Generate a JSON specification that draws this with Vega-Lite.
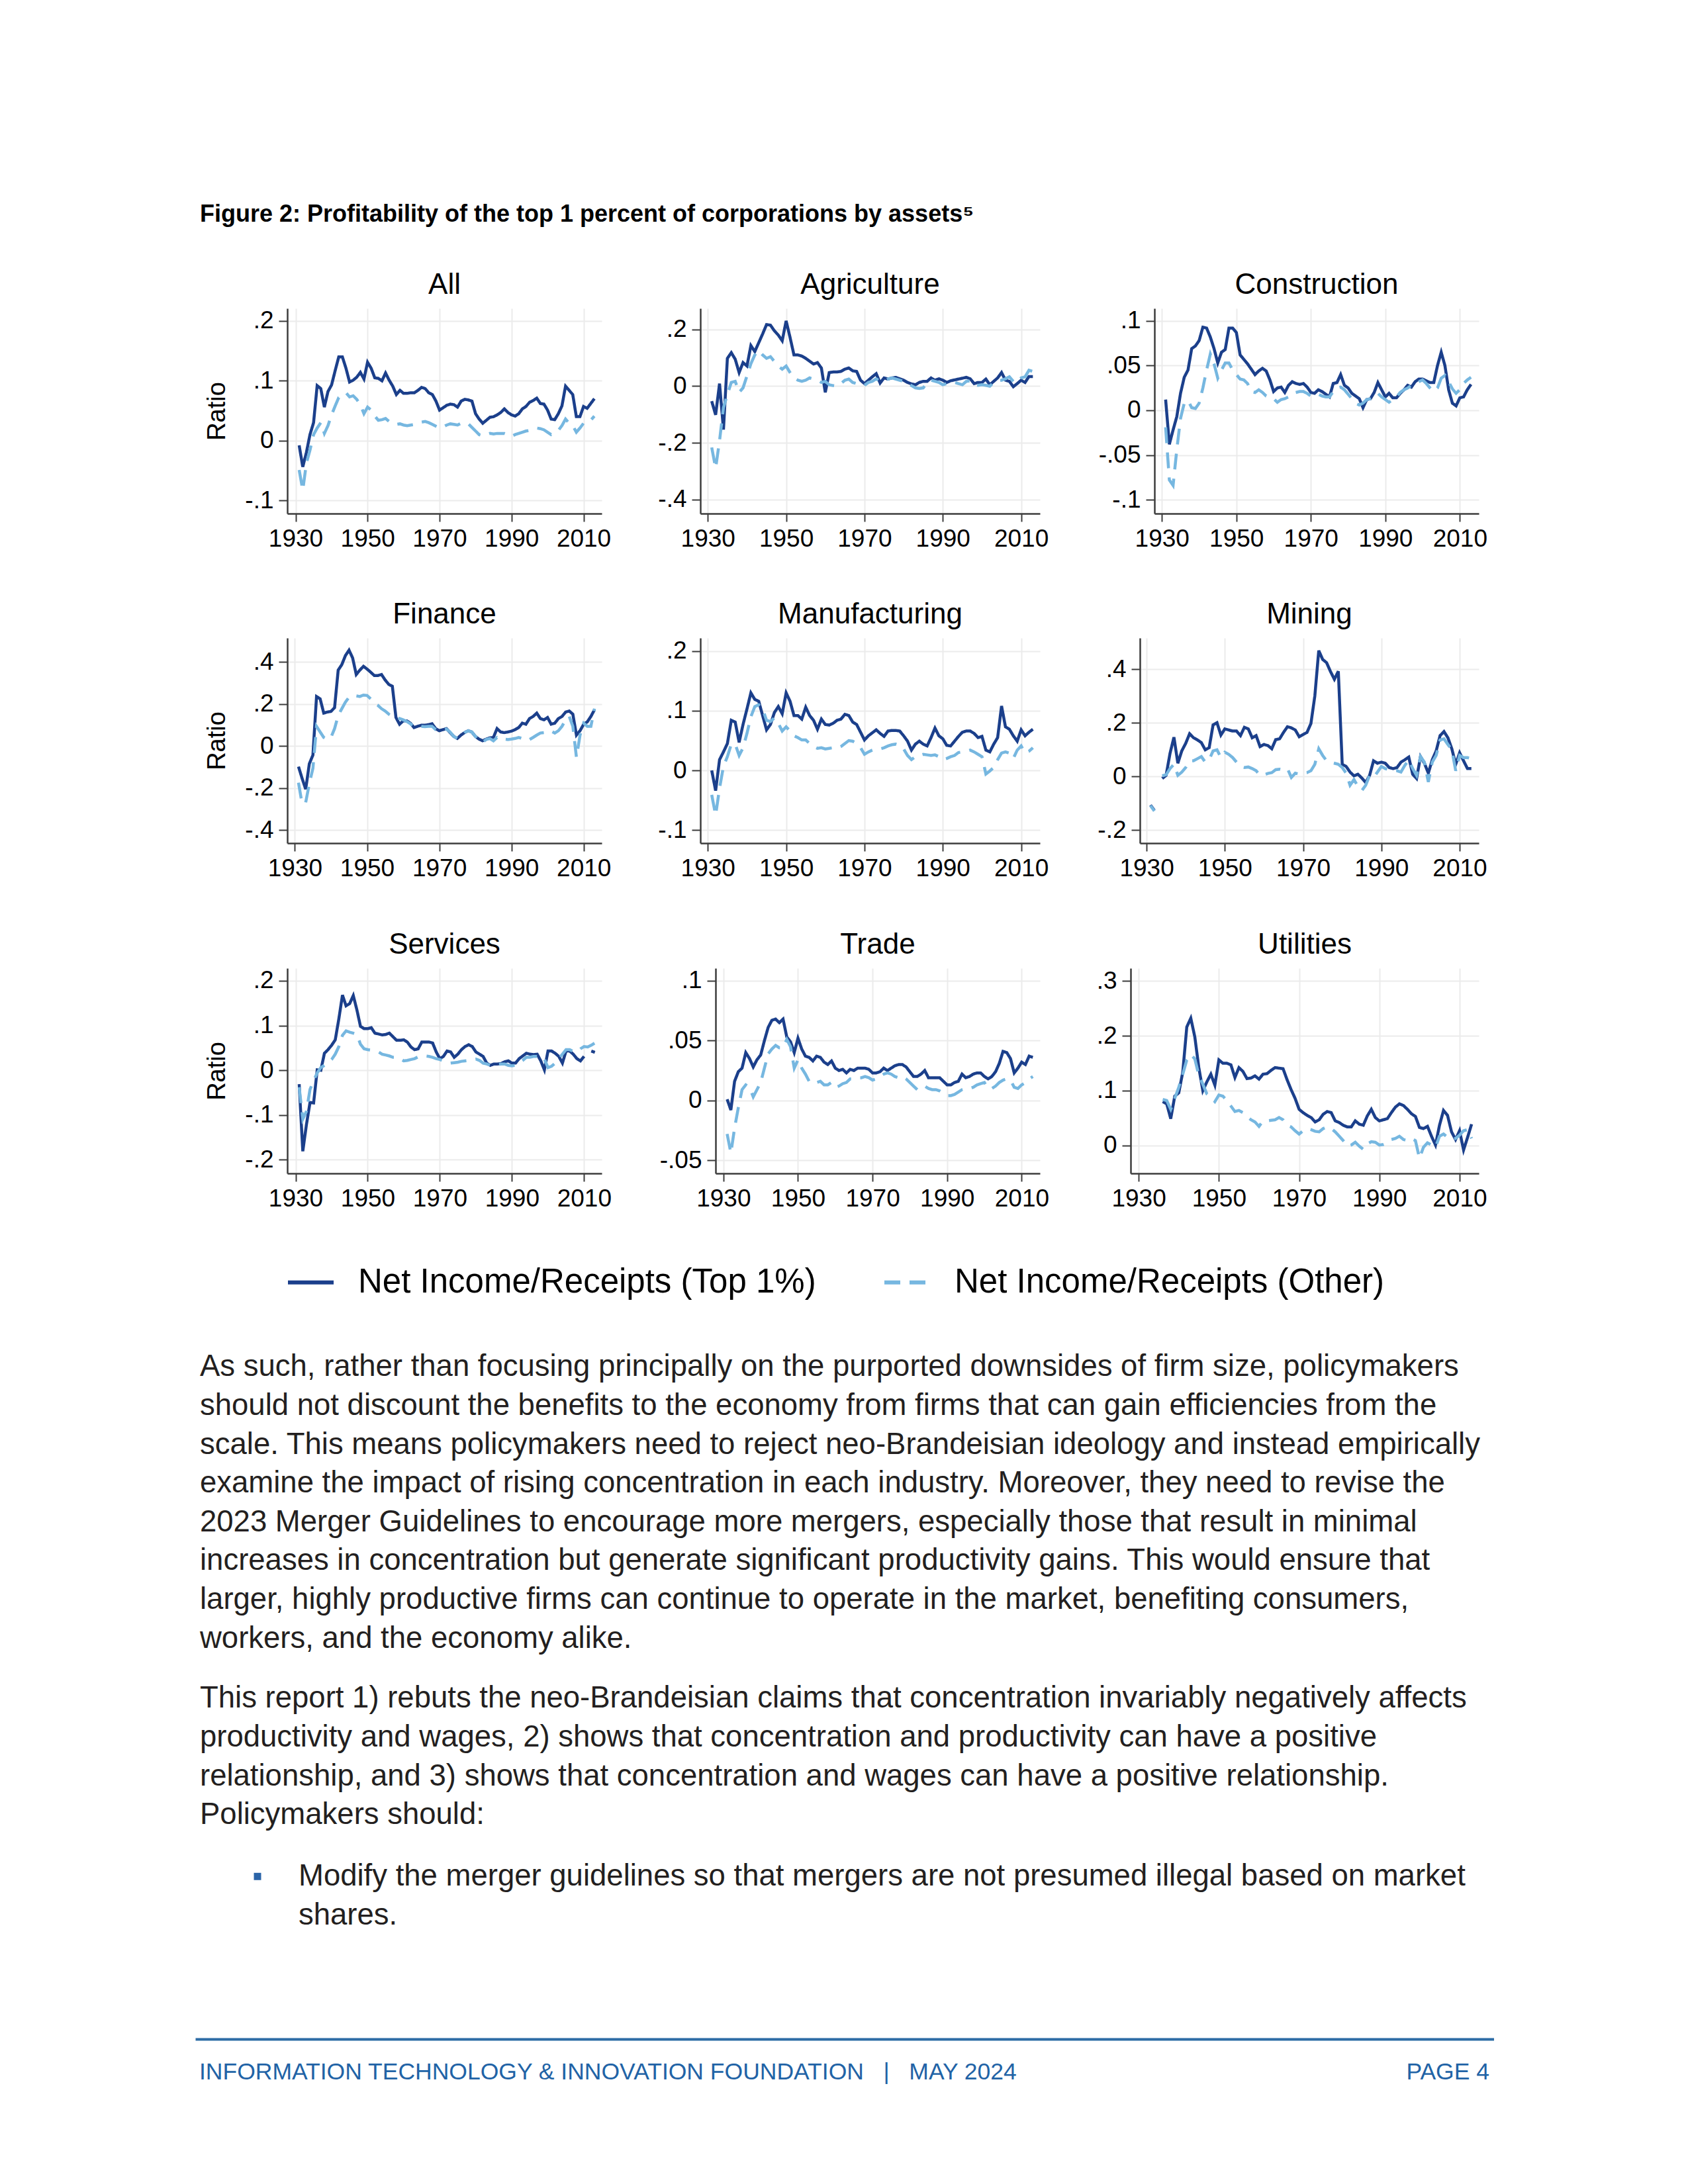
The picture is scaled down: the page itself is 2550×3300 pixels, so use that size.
{
"$schema": "https://vega.github.io/schema/vega-lite/v6.json",
"padding": {"left": 295, "top": 300, "right": 0, "bottom": 0},
"background": "white",
"columns": 6,
"spacing": 0,
"bounds": "flush",
"align": {"row": "each", "column": "each"},
"resolve": {"scale": {"x": "independent", "y": "independent"}, "axis": {"x": "independent", "y": "independent"}},
"datasets": {
"d": [
{"p":"All","yr":1931,"t":-0.008,"o":-0.049},{"p":"All","yr":1932,"t":-0.044,"o":-0.083},{"p":"All","yr":1933,"t":-0.020,"o":-0.038},{"p":"All","yr":1934,"t":0.010,"o":-0.016},{"p":"All","yr":1935,"t":0.030,"o":0.010},{"p":"All","yr":1936,"t":0.092,"o":0.021},{"p":"All","yr":1937,"t":0.087,"o":0.030},{"p":"All","yr":1938,"t":0.056,"o":0.012},{"p":"All","yr":1939,"t":0.082,"o":0.025},{"p":"All","yr":1940,"t":0.093,"o":0.043},{"p":"All","yr":1941,"t":0.117,"o":0.058},{"p":"All","yr":1942,"t":0.140,"o":0.072},{"p":"All","yr":1943,"t":0.140,"o":0.077},{"p":"All","yr":1944,"t":0.121,"o":0.080},{"p":"All","yr":1945,"t":0.098,"o":0.073},{"p":"All","yr":1946,"t":0.101,"o":0.075},{"p":"All","yr":1947,"t":0.106,"o":0.069},{"p":"All","yr":1948,"t":0.114,"o":0.060},{"p":"All","yr":1949,"t":0.103,"o":0.045},{"p":"All","yr":1950,"t":0.131,"o":0.056},{"p":"All","yr":1951,"t":0.121,"o":0.051},{"p":"All","yr":1952,"t":0.105,"o":0.041},{"p":"All","yr":1953,"t":0.104,"o":0.034},{"p":"All","yr":1954,"t":0.100,"o":0.035},{"p":"All","yr":1955,"t":0.113,"o":0.037},{"p":"All","yr":1956,"t":0.101,"o":0.032},{"p":"All","yr":1957,"t":0.091,"o":0.029},{"p":"All","yr":1958,"t":0.077,"o":0.027},{"p":"All","yr":1959,"t":0.084,"o":0.028},{"p":"All","yr":1960,"t":0.079,"o":0.026},{"p":"All","yr":1961,"t":0.079,"o":0.025},{"p":"All","yr":1962,"t":0.080,"o":0.026},{"p":"All","yr":1963,"t":0.080,"o":0.027},{"p":"All","yr":1964,"t":0.084,"o":0.029},{"p":"All","yr":1965,"t":0.089,"o":0.031},{"p":"All","yr":1966,"t":0.087,"o":0.032},{"p":"All","yr":1967,"t":0.080,"o":0.030},{"p":"All","yr":1968,"t":0.077,"o":0.027},{"p":"All","yr":1969,"t":0.066,"o":0.024},{"p":"All","yr":1970,"t":0.051,"o":0.021},{"p":"All","yr":1971,"t":0.055,"o":0.023},{"p":"All","yr":1972,"t":0.059,"o":0.026},{"p":"All","yr":1973,"t":0.061,"o":0.028},{"p":"All","yr":1974,"t":0.060,"o":0.027},{"p":"All","yr":1975,"t":0.056,"o":0.026},{"p":"All","yr":1976,"t":0.066,"o":0.029},{"p":"All","yr":1977,"t":0.069,"o":0.030},{"p":"All","yr":1978,"t":0.068,"o":0.028},{"p":"All","yr":1979,"t":0.066,"o":0.022},{"p":"All","yr":1980,"t":0.045,"o":0.016},{"p":"All","yr":1981,"t":0.036,"o":0.010},{"p":"All","yr":1982,"t":0.029,"o":0.008},{"p":"All","yr":1983,"t":0.034,"o":0.010},{"p":"All","yr":1984,"t":0.039,"o":0.012},{"p":"All","yr":1985,"t":0.040,"o":0.011},{"p":"All","yr":1986,"t":0.043,"o":0.012},{"p":"All","yr":1987,"t":0.047,"o":0.012},{"p":"All","yr":1988,"t":0.053,"o":0.012},{"p":"All","yr":1989,"t":0.047,"o":0.010},{"p":"All","yr":1990,"t":0.043,"o":0.007},{"p":"All","yr":1991,"t":0.041,"o":0.010},{"p":"All","yr":1992,"t":0.045,"o":0.012},{"p":"All","yr":1993,"t":0.053,"o":0.014},{"p":"All","yr":1994,"t":0.057,"o":0.016},{"p":"All","yr":1995,"t":0.064,"o":0.017},{"p":"All","yr":1996,"t":0.067,"o":0.019},{"p":"All","yr":1997,"t":0.071,"o":0.021},{"p":"All","yr":1998,"t":0.062,"o":0.020},{"p":"All","yr":1999,"t":0.061,"o":0.018},{"p":"All","yr":2000,"t":0.051,"o":0.014},{"p":"All","yr":2001,"t":0.036,"o":0.010},{"p":"All","yr":2002,"t":0.035,"o":0.012},{"p":"All","yr":2003,"t":0.045,"o":0.017},{"p":"All","yr":2004,"t":0.058,"o":0.025},{"p":"All","yr":2005,"t":0.091,"o":0.036},{"p":"All","yr":2006,"t":0.084,"o":0.029},{"p":"All","yr":2007,"t":0.077,"o":0.025},{"p":"All","yr":2008,"t":0.040,"o":0.014},{"p":"All","yr":2009,"t":0.040,"o":0.021},{"p":"All","yr":2010,"t":0.057,"o":0.029},{"p":"All","yr":2011,"t":0.054,"o":0.030},{"p":"All","yr":2012,"t":0.062,"o":0.034},{"p":"All","yr":2013,"t":0.070,"o":0.041},
{"p":"Agr","yr":1931,"t":-0.053,"o":-0.216},{"p":"Agr","yr":1932,"t":-0.101,"o":-0.289},{"p":"Agr","yr":1933,"t":0.009,"o":-0.192},{"p":"Agr","yr":1934,"t":-0.153,"o":-0.076},{"p":"Agr","yr":1935,"t":0.098,"o":-0.029},{"p":"Agr","yr":1936,"t":0.118,"o":0.013},{"p":"Agr","yr":1937,"t":0.095,"o":0.017},{"p":"Agr","yr":1938,"t":0.048,"o":-0.022},{"p":"Agr","yr":1939,"t":0.083,"o":-0.006},{"p":"Agr","yr":1940,"t":0.071,"o":0.036},{"p":"Agr","yr":1941,"t":0.143,"o":0.079},{"p":"Agr","yr":1942,"t":0.122,"o":0.110},{"p":"Agr","yr":1943,"t":0.153,"o":0.126},{"p":"Agr","yr":1944,"t":0.184,"o":0.110},{"p":"Agr","yr":1945,"t":0.217,"o":0.098},{"p":"Agr","yr":1946,"t":0.215,"o":0.104},{"p":"Agr","yr":1947,"t":0.195,"o":0.087},{"p":"Agr","yr":1948,"t":0.180,"o":0.071},{"p":"Agr","yr":1949,"t":0.160,"o":0.060},{"p":"Agr","yr":1950,"t":0.230,"o":0.071},{"p":"Agr","yr":1951,"t":0.172,"o":0.048},{"p":"Agr","yr":1952,"t":0.110,"o":0.029},{"p":"Agr","yr":1953,"t":0.110,"o":0.021},{"p":"Agr","yr":1954,"t":0.106,"o":0.017},{"p":"Agr","yr":1955,"t":0.098,"o":0.021},{"p":"Agr","yr":1956,"t":0.088,"o":0.029},{"p":"Agr","yr":1957,"t":0.078,"o":0.025},{"p":"Agr","yr":1958,"t":0.083,"o":0.021},{"p":"Agr","yr":1959,"t":0.064,"o":0.013},{"p":"Agr","yr":1960,"t":-0.022,"o":0.017},{"p":"Agr","yr":1961,"t":0.048,"o":0.005},{"p":"Agr","yr":1962,"t":0.050,"o":0.002},{"p":"Agr","yr":1963,"t":0.050,"o":0.000},{"p":"Agr","yr":1964,"t":0.052,"o":0.009},{"p":"Agr","yr":1965,"t":0.060,"o":0.021},{"p":"Agr","yr":1966,"t":0.064,"o":0.025},{"p":"Agr","yr":1967,"t":0.054,"o":0.013},{"p":"Agr","yr":1968,"t":0.052,"o":0.009},{"p":"Agr","yr":1969,"t":0.021,"o":0.008},{"p":"Agr","yr":1970,"t":0.009,"o":0.003},{"p":"Agr","yr":1971,"t":0.021,"o":0.013},{"p":"Agr","yr":1972,"t":0.033,"o":0.017},{"p":"Agr","yr":1973,"t":0.044,"o":0.026},{"p":"Agr","yr":1974,"t":0.011,"o":0.017},{"p":"Agr","yr":1975,"t":0.029,"o":0.021},{"p":"Agr","yr":1976,"t":0.025,"o":0.025},{"p":"Agr","yr":1977,"t":0.029,"o":0.029},{"p":"Agr","yr":1978,"t":0.031,"o":0.025},{"p":"Agr","yr":1979,"t":0.026,"o":0.021},{"p":"Agr","yr":1980,"t":0.021,"o":0.017},{"p":"Agr","yr":1981,"t":0.013,"o":0.009},{"p":"Agr","yr":1982,"t":0.008,"o":0.002},{"p":"Agr","yr":1983,"t":0.005,"o":-0.006},{"p":"Agr","yr":1984,"t":0.013,"o":-0.008},{"p":"Agr","yr":1985,"t":0.017,"o":-0.006},{"p":"Agr","yr":1986,"t":0.017,"o":0.013},{"p":"Agr","yr":1987,"t":0.029,"o":0.021},{"p":"Agr","yr":1988,"t":0.021,"o":0.017},{"p":"Agr","yr":1989,"t":0.026,"o":0.013},{"p":"Agr","yr":1990,"t":0.021,"o":0.005},{"p":"Agr","yr":1991,"t":0.013,"o":0.009},{"p":"Agr","yr":1992,"t":0.019,"o":0.013},{"p":"Agr","yr":1993,"t":0.022,"o":0.013},{"p":"Agr","yr":1994,"t":0.025,"o":0.009},{"p":"Agr","yr":1995,"t":0.028,"o":0.005},{"p":"Agr","yr":1996,"t":0.031,"o":0.017},{"p":"Agr","yr":1997,"t":0.026,"o":0.019},{"p":"Agr","yr":1998,"t":0.009,"o":0.005},{"p":"Agr","yr":1999,"t":0.013,"o":0.003},{"p":"Agr","yr":2000,"t":0.013,"o":0.005},{"p":"Agr","yr":2001,"t":0.025,"o":0.003},{"p":"Agr","yr":2002,"t":0.005,"o":0.000},{"p":"Agr","yr":2003,"t":0.017,"o":0.013},{"p":"Agr","yr":2004,"t":0.029,"o":0.019},{"p":"Agr","yr":2005,"t":0.048,"o":0.021},{"p":"Agr","yr":2006,"t":0.021,"o":0.026},{"p":"Agr","yr":2007,"t":0.017,"o":0.033},{"p":"Agr","yr":2008,"t":-0.002,"o":0.017},{"p":"Agr","yr":2009,"t":0.009,"o":0.013},{"p":"Agr","yr":2010,"t":0.021,"o":0.029},{"p":"Agr","yr":2011,"t":0.013,"o":0.033},{"p":"Agr","yr":2012,"t":0.034,"o":0.056},{"p":"Agr","yr":2013,"t":0.034,"o":0.052},
{"p":"Con","yr":1931,"t":0.012,"o":-0.019},{"p":"Con","yr":1932,"t":-0.038,"o":-0.078},{"p":"Con","yr":1933,"t":-0.022,"o":-0.084},{"p":"Con","yr":1934,"t":-0.007,"o":-0.044},{"p":"Con","yr":1935,"t":0.019,"o":-0.009},{"p":"Con","yr":1936,"t":0.037,"o":0.008},{"p":"Con","yr":1937,"t":0.045,"o":0.011},{"p":"Con","yr":1938,"t":0.069,"o":0.003},{"p":"Con","yr":1939,"t":0.072,"o":0.002},{"p":"Con","yr":1940,"t":0.078,"o":0.008},{"p":"Con","yr":1941,"t":0.093,"o":0.025},{"p":"Con","yr":1942,"t":0.092,"o":0.045},{"p":"Con","yr":1943,"t":0.082,"o":0.063},{"p":"Con","yr":1944,"t":0.069,"o":0.052},{"p":"Con","yr":1945,"t":0.053,"o":0.036},{"p":"Con","yr":1946,"t":0.065,"o":0.045},{"p":"Con","yr":1947,"t":0.068,"o":0.053},{"p":"Con","yr":1948,"t":0.092,"o":0.053},{"p":"Con","yr":1949,"t":0.092,"o":0.045},{"p":"Con","yr":1950,"t":0.087,"o":0.040},{"p":"Con","yr":1951,"t":0.062,"o":0.035},{"p":"Con","yr":1952,"t":0.057,"o":0.034},{"p":"Con","yr":1953,"t":0.052,"o":0.030},{"p":"Con","yr":1954,"t":0.046,"o":0.021},{"p":"Con","yr":1955,"t":0.040,"o":0.020},{"p":"Con","yr":1956,"t":0.044,"o":0.023},{"p":"Con","yr":1957,"t":0.047,"o":0.020},{"p":"Con","yr":1958,"t":0.044,"o":0.016},{"p":"Con","yr":1959,"t":0.034,"o":0.015},{"p":"Con","yr":1960,"t":0.021,"o":0.013},{"p":"Con","yr":1961,"t":0.025,"o":0.009},{"p":"Con","yr":1962,"t":0.026,"o":0.012},{"p":"Con","yr":1963,"t":0.020,"o":0.013},{"p":"Con","yr":1964,"t":0.028,"o":0.015},{"p":"Con","yr":1965,"t":0.032,"o":0.019},{"p":"Con","yr":1966,"t":0.030,"o":0.020},{"p":"Con","yr":1967,"t":0.029,"o":0.021},{"p":"Con","yr":1968,"t":0.030,"o":0.021},{"p":"Con","yr":1969,"t":0.026,"o":0.019},{"p":"Con","yr":1970,"t":0.020,"o":0.016},{"p":"Con","yr":1971,"t":0.019,"o":0.018},{"p":"Con","yr":1972,"t":0.023,"o":0.018},{"p":"Con","yr":1973,"t":0.021,"o":0.016},{"p":"Con","yr":1974,"t":0.018,"o":0.015},{"p":"Con","yr":1975,"t":0.015,"o":0.015},{"p":"Con","yr":1976,"t":0.030,"o":0.021},{"p":"Con","yr":1977,"t":0.031,"o":0.025},{"p":"Con","yr":1978,"t":0.040,"o":0.026},{"p":"Con","yr":1979,"t":0.028,"o":0.023},{"p":"Con","yr":1980,"t":0.025,"o":0.018},{"p":"Con","yr":1981,"t":0.019,"o":0.013},{"p":"Con","yr":1982,"t":0.016,"o":0.008},{"p":"Con","yr":1983,"t":0.013,"o":0.006},{"p":"Con","yr":1984,"t":0.003,"o":0.008},{"p":"Con","yr":1985,"t":0.012,"o":0.012},{"p":"Con","yr":1986,"t":0.013,"o":0.013},{"p":"Con","yr":1987,"t":0.020,"o":0.015},{"p":"Con","yr":1988,"t":0.031,"o":0.019},{"p":"Con","yr":1989,"t":0.023,"o":0.015},{"p":"Con","yr":1990,"t":0.015,"o":0.012},{"p":"Con","yr":1991,"t":0.019,"o":0.009},{"p":"Con","yr":1992,"t":0.014,"o":0.012},{"p":"Con","yr":1993,"t":0.014,"o":0.015},{"p":"Con","yr":1994,"t":0.019,"o":0.020},{"p":"Con","yr":1995,"t":0.023,"o":0.023},{"p":"Con","yr":1996,"t":0.028,"o":0.025},{"p":"Con","yr":1997,"t":0.026,"o":0.028},{"p":"Con","yr":1998,"t":0.032,"o":0.030},{"p":"Con","yr":1999,"t":0.035,"o":0.032},{"p":"Con","yr":2000,"t":0.035,"o":0.034},{"p":"Con","yr":2001,"t":0.033,"o":0.030},{"p":"Con","yr":2002,"t":0.031,"o":0.025},{"p":"Con","yr":2003,"t":0.031,"o":0.021},{"p":"Con","yr":2004,"t":0.050,"o":0.025},{"p":"Con","yr":2005,"t":0.065,"o":0.036},{"p":"Con","yr":2006,"t":0.050,"o":0.039},{"p":"Con","yr":2007,"t":0.023,"o":0.032},{"p":"Con","yr":2008,"t":0.008,"o":0.024},{"p":"Con","yr":2009,"t":0.005,"o":0.019},{"p":"Con","yr":2010,"t":0.014,"o":0.023},{"p":"Con","yr":2011,"t":0.015,"o":0.030},{"p":"Con","yr":2012,"t":0.023,"o":0.034},{"p":"Con","yr":2013,"t":0.029,"o":0.037},
{"p":"Fin","yr":1931,"t":-0.098,"o":-0.175},{"p":"Fin","yr":1932,"t":-0.154,"o":-0.275},{"p":"Fin","yr":1933,"t":-0.206,"o":-0.269},{"p":"Fin","yr":1934,"t":-0.085,"o":-0.180},{"p":"Fin","yr":1935,"t":-0.043,"o":-0.106},{"p":"Fin","yr":1936,"t":0.236,"o":0.094},{"p":"Fin","yr":1937,"t":0.225,"o":0.067},{"p":"Fin","yr":1938,"t":0.157,"o":0.041},{"p":"Fin","yr":1939,"t":0.162,"o":0.031},{"p":"Fin","yr":1940,"t":0.165,"o":0.041},{"p":"Fin","yr":1941,"t":0.183,"o":0.083},{"p":"Fin","yr":1942,"t":0.362,"o":0.146},{"p":"Fin","yr":1943,"t":0.388,"o":0.178},{"p":"Fin","yr":1944,"t":0.431,"o":0.209},{"p":"Fin","yr":1945,"t":0.457,"o":0.233},{"p":"Fin","yr":1946,"t":0.420,"o":0.241},{"p":"Fin","yr":1947,"t":0.341,"o":0.239},{"p":"Fin","yr":1948,"t":0.362,"o":0.236},{"p":"Fin","yr":1949,"t":0.380,"o":0.243},{"p":"Fin","yr":1950,"t":0.367,"o":0.241},{"p":"Fin","yr":1951,"t":0.352,"o":0.225},{"p":"Fin","yr":1952,"t":0.336,"o":0.204},{"p":"Fin","yr":1953,"t":0.336,"o":0.194},{"p":"Fin","yr":1954,"t":0.341,"o":0.178},{"p":"Fin","yr":1955,"t":0.315,"o":0.167},{"p":"Fin","yr":1956,"t":0.294,"o":0.152},{"p":"Fin","yr":1957,"t":0.285,"o":0.141},{"p":"Fin","yr":1958,"t":0.136,"o":0.136},{"p":"Fin","yr":1959,"t":0.104,"o":0.131},{"p":"Fin","yr":1960,"t":0.120,"o":0.125},{"p":"Fin","yr":1961,"t":0.120,"o":0.117},{"p":"Fin","yr":1962,"t":0.109,"o":0.106},{"p":"Fin","yr":1963,"t":0.088,"o":0.094},{"p":"Fin","yr":1964,"t":0.094,"o":0.092},{"p":"Fin","yr":1965,"t":0.099,"o":0.094},{"p":"Fin","yr":1966,"t":0.099,"o":0.092},{"p":"Fin","yr":1967,"t":0.102,"o":0.094},{"p":"Fin","yr":1968,"t":0.106,"o":0.094},{"p":"Fin","yr":1969,"t":0.083,"o":0.078},{"p":"Fin","yr":1970,"t":0.073,"o":0.075},{"p":"Fin","yr":1971,"t":0.078,"o":0.078},{"p":"Fin","yr":1972,"t":0.083,"o":0.081},{"p":"Fin","yr":1973,"t":0.064,"o":0.067},{"p":"Fin","yr":1974,"t":0.046,"o":0.046},{"p":"Fin","yr":1975,"t":0.036,"o":0.036},{"p":"Fin","yr":1976,"t":0.052,"o":0.046},{"p":"Fin","yr":1977,"t":0.064,"o":0.064},{"p":"Fin","yr":1978,"t":0.073,"o":0.073},{"p":"Fin","yr":1979,"t":0.067,"o":0.067},{"p":"Fin","yr":1980,"t":0.046,"o":0.046},{"p":"Fin","yr":1981,"t":0.033,"o":0.025},{"p":"Fin","yr":1982,"t":0.025,"o":0.018},{"p":"Fin","yr":1983,"t":0.033,"o":0.031},{"p":"Fin","yr":1984,"t":0.039,"o":0.036},{"p":"Fin","yr":1985,"t":0.041,"o":0.025},{"p":"Fin","yr":1986,"t":0.083,"o":0.041},{"p":"Fin","yr":1987,"t":0.067,"o":0.031},{"p":"Fin","yr":1988,"t":0.064,"o":0.033},{"p":"Fin","yr":1989,"t":0.067,"o":0.031},{"p":"Fin","yr":1990,"t":0.071,"o":0.033},{"p":"Fin","yr":1991,"t":0.078,"o":0.036},{"p":"Fin","yr":1992,"t":0.088,"o":0.041},{"p":"Fin","yr":1993,"t":0.109,"o":0.036},{"p":"Fin","yr":1994,"t":0.104,"o":0.041},{"p":"Fin","yr":1995,"t":0.131,"o":0.031},{"p":"Fin","yr":1996,"t":0.141,"o":0.041},{"p":"Fin","yr":1997,"t":0.157,"o":0.052},{"p":"Fin","yr":1998,"t":0.131,"o":0.062},{"p":"Fin","yr":1999,"t":0.125,"o":0.064},{"p":"Fin","yr":2000,"t":0.136,"o":0.073},{"p":"Fin","yr":2001,"t":0.104,"o":0.071},{"p":"Fin","yr":2002,"t":0.109,"o":0.062},{"p":"Fin","yr":2003,"t":0.131,"o":0.073},{"p":"Fin","yr":2004,"t":0.141,"o":0.094},{"p":"Fin","yr":2005,"t":0.162,"o":0.125},{"p":"Fin","yr":2006,"t":0.167,"o":0.141},{"p":"Fin","yr":2007,"t":0.152,"o":0.094},{"p":"Fin","yr":2008,"t":0.052,"o":-0.054},{"p":"Fin","yr":2009,"t":0.073,"o":0.052},{"p":"Fin","yr":2010,"t":0.104,"o":0.109},{"p":"Fin","yr":2011,"t":0.115,"o":0.094},{"p":"Fin","yr":2012,"t":0.141,"o":0.094},{"p":"Fin","yr":2013,"t":0.173,"o":0.178},
{"p":"Man","yr":1931,"t":0.000,"o":-0.041},{"p":"Man","yr":1932,"t":-0.034,"o":-0.075},{"p":"Man","yr":1933,"t":0.018,"o":-0.030},{"p":"Man","yr":1934,"t":0.031,"o":0.007},{"p":"Man","yr":1935,"t":0.045,"o":0.023},{"p":"Man","yr":1936,"t":0.084,"o":0.044},{"p":"Man","yr":1937,"t":0.081,"o":0.044},{"p":"Man","yr":1938,"t":0.047,"o":0.025},{"p":"Man","yr":1939,"t":0.077,"o":0.038},{"p":"Man","yr":1940,"t":0.103,"o":0.062},{"p":"Man","yr":1941,"t":0.130,"o":0.090},{"p":"Man","yr":1942,"t":0.119,"o":0.107},{"p":"Man","yr":1943,"t":0.116,"o":0.110},{"p":"Man","yr":1944,"t":0.092,"o":0.103},{"p":"Man","yr":1945,"t":0.068,"o":0.084},{"p":"Man","yr":1946,"t":0.077,"o":0.082},{"p":"Man","yr":1947,"t":0.097,"o":0.088},{"p":"Man","yr":1948,"t":0.107,"o":0.079},{"p":"Man","yr":1949,"t":0.095,"o":0.066},{"p":"Man","yr":1950,"t":0.130,"o":0.073},{"p":"Man","yr":1951,"t":0.116,"o":0.066},{"p":"Man","yr":1952,"t":0.092,"o":0.058},{"p":"Man","yr":1953,"t":0.092,"o":0.055},{"p":"Man","yr":1954,"t":0.086,"o":0.051},{"p":"Man","yr":1955,"t":0.106,"o":0.051},{"p":"Man","yr":1956,"t":0.092,"o":0.045},{"p":"Man","yr":1957,"t":0.084,"o":0.040},{"p":"Man","yr":1958,"t":0.069,"o":0.037},{"p":"Man","yr":1959,"t":0.086,"o":0.038},{"p":"Man","yr":1960,"t":0.077,"o":0.036},{"p":"Man","yr":1961,"t":0.076,"o":0.037},{"p":"Man","yr":1962,"t":0.079,"o":0.038},{"p":"Man","yr":1963,"t":0.084,"o":0.037},{"p":"Man","yr":1964,"t":0.086,"o":0.040},{"p":"Man","yr":1965,"t":0.094,"o":0.045},{"p":"Man","yr":1966,"t":0.092,"o":0.050},{"p":"Man","yr":1967,"t":0.081,"o":0.049},{"p":"Man","yr":1968,"t":0.077,"o":0.045},{"p":"Man","yr":1969,"t":0.064,"o":0.038},{"p":"Man","yr":1970,"t":0.051,"o":0.027},{"p":"Man","yr":1971,"t":0.058,"o":0.031},{"p":"Man","yr":1972,"t":0.063,"o":0.034},{"p":"Man","yr":1973,"t":0.068,"o":0.036},{"p":"Man","yr":1974,"t":0.062,"o":0.036},{"p":"Man","yr":1975,"t":0.057,"o":0.038},{"p":"Man","yr":1976,"t":0.066,"o":0.041},{"p":"Man","yr":1977,"t":0.067,"o":0.043},{"p":"Man","yr":1978,"t":0.067,"o":0.044},{"p":"Man","yr":1979,"t":0.066,"o":0.042},{"p":"Man","yr":1980,"t":0.058,"o":0.036},{"p":"Man","yr":1981,"t":0.049,"o":0.025},{"p":"Man","yr":1982,"t":0.034,"o":0.018},{"p":"Man","yr":1983,"t":0.044,"o":0.023},{"p":"Man","yr":1984,"t":0.049,"o":0.025},{"p":"Man","yr":1985,"t":0.044,"o":0.027},{"p":"Man","yr":1986,"t":0.041,"o":0.026},{"p":"Man","yr":1987,"t":0.055,"o":0.025},{"p":"Man","yr":1988,"t":0.071,"o":0.026},{"p":"Man","yr":1989,"t":0.058,"o":0.023},{"p":"Man","yr":1990,"t":0.053,"o":0.018},{"p":"Man","yr":1991,"t":0.042,"o":0.020},{"p":"Man","yr":1992,"t":0.041,"o":0.023},{"p":"Man","yr":1993,"t":0.049,"o":0.025},{"p":"Man","yr":1994,"t":0.057,"o":0.030},{"p":"Man","yr":1995,"t":0.064,"o":0.031},{"p":"Man","yr":1996,"t":0.066,"o":0.032},{"p":"Man","yr":1997,"t":0.066,"o":0.034},{"p":"Man","yr":1998,"t":0.062,"o":0.031},{"p":"Man","yr":1999,"t":0.055,"o":0.027},{"p":"Man","yr":2000,"t":0.057,"o":0.023},{"p":"Man","yr":2001,"t":0.034,"o":-0.006},{"p":"Man","yr":2002,"t":0.031,"o":-0.001},{"p":"Man","yr":2003,"t":0.044,"o":0.005},{"p":"Man","yr":2004,"t":0.055,"o":0.018},{"p":"Man","yr":2005,"t":0.108,"o":0.029},{"p":"Man","yr":2006,"t":0.073,"o":0.031},{"p":"Man","yr":2007,"t":0.069,"o":0.029},{"p":"Man","yr":2008,"t":0.058,"o":0.020},{"p":"Man","yr":2009,"t":0.049,"o":0.034},{"p":"Man","yr":2010,"t":0.068,"o":0.041},{"p":"Man","yr":2011,"t":0.058,"o":0.029},{"p":"Man","yr":2012,"t":0.064,"o":0.032},{"p":"Man","yr":2013,"t":0.069,"o":0.038},
{"p":"Min","yr":1931,"t":-0.107,"o":-0.109},{"p":"Min","yr":1932,"t":-0.127,"o":-0.129},{"p":"Min","yr":1933,"t":null,"o":null},{"p":"Min","yr":1934,"t":-0.008,"o":0.002},{"p":"Min","yr":1935,"t":0.004,"o":0.006},{"p":"Min","yr":1936,"t":0.086,"o":0.029},{"p":"Min","yr":1937,"t":0.146,"o":0.045},{"p":"Min","yr":1938,"t":0.049,"o":0.004},{"p":"Min","yr":1939,"t":0.095,"o":0.016},{"p":"Min","yr":1940,"t":0.123,"o":0.033},{"p":"Min","yr":1941,"t":0.159,"o":0.058},{"p":"Min","yr":1942,"t":0.144,"o":0.058},{"p":"Min","yr":1943,"t":0.136,"o":0.066},{"p":"Min","yr":1944,"t":0.126,"o":0.074},{"p":"Min","yr":1945,"t":0.099,"o":0.053},{"p":"Min","yr":1946,"t":0.107,"o":0.062},{"p":"Min","yr":1947,"t":0.192,"o":0.095},{"p":"Min","yr":1948,"t":0.200,"o":0.099},{"p":"Min","yr":1949,"t":0.154,"o":0.070},{"p":"Min","yr":1950,"t":0.177,"o":0.090},{"p":"Min","yr":1951,"t":0.173,"o":0.082},{"p":"Min","yr":1952,"t":0.169,"o":0.070},{"p":"Min","yr":1953,"t":0.169,"o":0.053},{"p":"Min","yr":1954,"t":0.152,"o":0.037},{"p":"Min","yr":1955,"t":0.183,"o":0.033},{"p":"Min","yr":1956,"t":0.177,"o":0.035},{"p":"Min","yr":1957,"t":0.144,"o":0.029},{"p":"Min","yr":1958,"t":0.152,"o":0.021},{"p":"Min","yr":1959,"t":0.111,"o":0.004},{"p":"Min","yr":1960,"t":0.119,"o":0.006},{"p":"Min","yr":1961,"t":0.115,"o":0.011},{"p":"Min","yr":1962,"t":0.103,"o":0.014},{"p":"Min","yr":1963,"t":0.137,"o":0.025},{"p":"Min","yr":1964,"t":0.140,"o":0.027},{"p":"Min","yr":1965,"t":0.164,"o":0.025},{"p":"Min","yr":1966,"t":0.185,"o":0.029},{"p":"Min","yr":1967,"t":0.181,"o":-0.004},{"p":"Min","yr":1968,"t":0.173,"o":0.012},{"p":"Min","yr":1969,"t":0.148,"o":0.008},{"p":"Min","yr":1970,"t":0.156,"o":0.012},{"p":"Min","yr":1971,"t":0.164,"o":0.014},{"p":"Min","yr":1972,"t":0.197,"o":0.021},{"p":"Min","yr":1973,"t":0.300,"o":0.045},{"p":"Min","yr":1974,"t":0.469,"o":0.103},{"p":"Min","yr":1975,"t":0.436,"o":0.078},{"p":"Min","yr":1976,"t":0.424,"o":0.058},{"p":"Min","yr":1977,"t":0.391,"o":0.053},{"p":"Min","yr":1978,"t":0.362,"o":0.049},{"p":"Min","yr":1979,"t":0.392,"o":0.045},{"p":"Min","yr":1980,"t":0.045,"o":0.033},{"p":"Min","yr":1981,"t":0.037,"o":0.012},{"p":"Min","yr":1982,"t":0.016,"o":-0.033},{"p":"Min","yr":1983,"t":0.002,"o":-0.012},{"p":"Min","yr":1984,"t":0.008,"o":-0.037},{"p":"Min","yr":1985,"t":-0.006,"o":-0.053},{"p":"Min","yr":1986,"t":-0.023,"o":-0.033},{"p":"Min","yr":1987,"t":0.004,"o":0.004},{"p":"Min","yr":1988,"t":0.058,"o":-0.004},{"p":"Min","yr":1989,"t":0.049,"o":0.016},{"p":"Min","yr":1990,"t":0.053,"o":0.037},{"p":"Min","yr":1991,"t":0.049,"o":0.029},{"p":"Min","yr":1992,"t":0.033,"o":0.025},{"p":"Min","yr":1993,"t":0.029,"o":0.021},{"p":"Min","yr":1994,"t":0.033,"o":0.021},{"p":"Min","yr":1995,"t":0.053,"o":0.016},{"p":"Min","yr":1996,"t":0.062,"o":0.041},{"p":"Min","yr":1997,"t":0.072,"o":0.062},{"p":"Min","yr":1998,"t":0.008,"o":0.029},{"p":"Min","yr":1999,"t":-0.008,"o":0.004},{"p":"Min","yr":2000,"t":0.074,"o":0.074},{"p":"Min","yr":2001,"t":0.049,"o":0.053},{"p":"Min","yr":2002,"t":0.012,"o":-0.021},{"p":"Min","yr":2003,"t":0.062,"o":0.053},{"p":"Min","yr":2004,"t":0.095,"o":0.078},{"p":"Min","yr":2005,"t":0.152,"o":0.136},{"p":"Min","yr":2006,"t":0.167,"o":0.140},{"p":"Min","yr":2007,"t":0.144,"o":0.119},{"p":"Min","yr":2008,"t":0.103,"o":0.099},{"p":"Min","yr":2009,"t":0.045,"o":0.021},{"p":"Min","yr":2010,"t":0.088,"o":0.078},{"p":"Min","yr":2011,"t":0.058,"o":0.070},{"p":"Min","yr":2012,"t":0.029,"o":0.070},{"p":"Min","yr":2013,"t":0.029,"o":0.066},
{"p":"Ser","yr":1931,"t":-0.031,"o":-0.038},{"p":"Ser","yr":1932,"t":-0.181,"o":-0.109},{"p":"Ser","yr":1933,"t":-0.122,"o":-0.092},{"p":"Ser","yr":1934,"t":-0.072,"o":-0.043},{"p":"Ser","yr":1935,"t":-0.073,"o":-0.023},{"p":"Ser","yr":1936,"t":0.001,"o":-0.006},{"p":"Ser","yr":1937,"t":0.000,"o":0.006},{"p":"Ser","yr":1938,"t":0.038,"o":0.011},{"p":"Ser","yr":1939,"t":0.046,"o":0.016},{"p":"Ser","yr":1940,"t":0.056,"o":0.024},{"p":"Ser","yr":1941,"t":0.068,"o":0.036},{"p":"Ser","yr":1942,"t":0.115,"o":0.053},{"p":"Ser","yr":1943,"t":0.168,"o":0.078},{"p":"Ser","yr":1944,"t":0.144,"o":0.088},{"p":"Ser","yr":1945,"t":0.149,"o":0.085},{"p":"Ser","yr":1946,"t":0.167,"o":0.083},{"p":"Ser","yr":1947,"t":0.135,"o":0.080},{"p":"Ser","yr":1948,"t":0.098,"o":0.058},{"p":"Ser","yr":1949,"t":0.093,"o":0.048},{"p":"Ser","yr":1950,"t":0.093,"o":0.046},{"p":"Ser","yr":1951,"t":0.095,"o":0.045},{"p":"Ser","yr":1952,"t":0.083,"o":0.043},{"p":"Ser","yr":1953,"t":0.081,"o":0.041},{"p":"Ser","yr":1954,"t":0.079,"o":0.036},{"p":"Ser","yr":1955,"t":0.080,"o":0.034},{"p":"Ser","yr":1956,"t":0.083,"o":0.032},{"p":"Ser","yr":1957,"t":0.075,"o":0.029},{"p":"Ser","yr":1958,"t":0.067,"o":0.029},{"p":"Ser","yr":1959,"t":0.067,"o":0.026},{"p":"Ser","yr":1960,"t":0.068,"o":0.021},{"p":"Ser","yr":1961,"t":0.063,"o":0.022},{"p":"Ser","yr":1962,"t":0.052,"o":0.024},{"p":"Ser","yr":1963,"t":0.046,"o":0.026},{"p":"Ser","yr":1964,"t":0.048,"o":0.030},{"p":"Ser","yr":1965,"t":0.063,"o":0.032},{"p":"Ser","yr":1966,"t":0.063,"o":0.032},{"p":"Ser","yr":1967,"t":0.063,"o":0.031},{"p":"Ser","yr":1968,"t":0.061,"o":0.029},{"p":"Ser","yr":1969,"t":0.041,"o":0.026},{"p":"Ser","yr":1970,"t":0.026,"o":0.024},{"p":"Ser","yr":1971,"t":0.031,"o":0.021},{"p":"Ser","yr":1972,"t":0.043,"o":0.019},{"p":"Ser","yr":1973,"t":0.041,"o":0.016},{"p":"Ser","yr":1974,"t":0.029,"o":0.017},{"p":"Ser","yr":1975,"t":0.036,"o":0.018},{"p":"Ser","yr":1976,"t":0.046,"o":0.020},{"p":"Ser","yr":1977,"t":0.053,"o":0.021},{"p":"Ser","yr":1978,"t":0.057,"o":0.022},{"p":"Ser","yr":1979,"t":0.053,"o":0.024},{"p":"Ser","yr":1980,"t":0.041,"o":0.025},{"p":"Ser","yr":1981,"t":0.036,"o":0.022},{"p":"Ser","yr":1982,"t":0.031,"o":0.016},{"p":"Ser","yr":1983,"t":0.016,"o":0.014},{"p":"Ser","yr":1984,"t":0.011,"o":0.011},{"p":"Ser","yr":1985,"t":0.014,"o":0.012},{"p":"Ser","yr":1986,"t":0.014,"o":0.013},{"p":"Ser","yr":1987,"t":0.015,"o":0.014},{"p":"Ser","yr":1988,"t":0.019,"o":0.014},{"p":"Ser","yr":1989,"t":0.021,"o":0.011},{"p":"Ser","yr":1990,"t":0.016,"o":0.010},{"p":"Ser","yr":1991,"t":0.016,"o":0.011},{"p":"Ser","yr":1992,"t":0.026,"o":0.016},{"p":"Ser","yr":1993,"t":0.032,"o":0.022},{"p":"Ser","yr":1994,"t":0.038,"o":0.029},{"p":"Ser","yr":1995,"t":0.036,"o":0.029},{"p":"Ser","yr":1996,"t":0.035,"o":0.031},{"p":"Ser","yr":1997,"t":0.036,"o":0.031},{"p":"Ser","yr":1998,"t":0.021,"o":0.024},{"p":"Ser","yr":1999,"t":0.001,"o":0.025},{"p":"Ser","yr":2000,"t":0.043,"o":0.006},{"p":"Ser","yr":2001,"t":0.043,"o":0.009},{"p":"Ser","yr":2002,"t":0.038,"o":0.016},{"p":"Ser","yr":2003,"t":0.031,"o":0.026},{"p":"Ser","yr":2004,"t":0.016,"o":0.036},{"p":"Ser","yr":2005,"t":0.043,"o":0.046},{"p":"Ser","yr":2006,"t":0.043,"o":0.046},{"p":"Ser","yr":2007,"t":0.036,"o":0.042},{"p":"Ser","yr":2008,"t":0.026,"o":0.041},{"p":"Ser","yr":2009,"t":0.021,"o":0.048},{"p":"Ser","yr":2010,"t":0.031,"o":0.053},{"p":"Ser","yr":2011,"t":null,"o":0.052},{"p":"Ser","yr":2012,"t":0.043,"o":0.056},{"p":"Ser","yr":2013,"t":0.040,"o":0.061},
{"p":"Tra","yr":1931,"t":0.001,"o":-0.028},{"p":"Tra","yr":1932,"t":-0.008,"o":-0.044},{"p":"Tra","yr":1933,"t":0.016,"o":-0.023},{"p":"Tra","yr":1934,"t":0.024,"o":-0.006},{"p":"Tra","yr":1935,"t":0.027,"o":0.009},{"p":"Tra","yr":1936,"t":0.040,"o":0.013},{"p":"Tra","yr":1937,"t":0.035,"o":0.011},{"p":"Tra","yr":1938,"t":0.028,"o":0.003},{"p":"Tra","yr":1939,"t":0.034,"o":0.009},{"p":"Tra","yr":1940,"t":0.038,"o":0.015},{"p":"Tra","yr":1941,"t":0.050,"o":0.027},{"p":"Tra","yr":1942,"t":0.061,"o":0.039},{"p":"Tra","yr":1943,"t":0.067,"o":0.043},{"p":"Tra","yr":1944,"t":0.068,"o":0.046},{"p":"Tra","yr":1945,"t":0.065,"o":0.044},{"p":"Tra","yr":1946,"t":0.068,"o":0.044},{"p":"Tra","yr":1947,"t":0.053,"o":0.051},{"p":"Tra","yr":1948,"t":0.049,"o":0.045},{"p":"Tra","yr":1949,"t":0.040,"o":0.027},{"p":"Tra","yr":1950,"t":0.052,"o":0.034},{"p":"Tra","yr":1951,"t":0.043,"o":0.027},{"p":"Tra","yr":1952,"t":0.037,"o":0.022},{"p":"Tra","yr":1953,"t":0.036,"o":0.016},{"p":"Tra","yr":1954,"t":0.033,"o":0.014},{"p":"Tra","yr":1955,"t":0.037,"o":0.015},{"p":"Tra","yr":1956,"t":0.036,"o":0.016},{"p":"Tra","yr":1957,"t":0.032,"o":0.013},{"p":"Tra","yr":1958,"t":0.030,"o":0.013},{"p":"Tra","yr":1959,"t":0.033,"o":0.015},{"p":"Tra","yr":1960,"t":0.027,"o":0.011},{"p":"Tra","yr":1961,"t":0.025,"o":0.012},{"p":"Tra","yr":1962,"t":0.026,"o":0.014},{"p":"Tra","yr":1963,"t":0.023,"o":0.015},{"p":"Tra","yr":1964,"t":0.026,"o":0.018},{"p":"Tra","yr":1965,"t":0.025,"o":0.018},{"p":"Tra","yr":1966,"t":0.027,"o":0.019},{"p":"Tra","yr":1967,"t":0.027,"o":0.019},{"p":"Tra","yr":1968,"t":0.027,"o":0.020},{"p":"Tra","yr":1969,"t":0.026,"o":0.019},{"p":"Tra","yr":1970,"t":0.023,"o":0.017},{"p":"Tra","yr":1971,"t":0.023,"o":0.018},{"p":"Tra","yr":1972,"t":0.024,"o":0.020},{"p":"Tra","yr":1973,"t":0.027,"o":0.022},{"p":"Tra","yr":1974,"t":0.025,"o":0.023},{"p":"Tra","yr":1975,"t":0.027,"o":0.022},{"p":"Tra","yr":1976,"t":0.029,"o":0.020},{"p":"Tra","yr":1977,"t":0.030,"o":0.019},{"p":"Tra","yr":1978,"t":0.030,"o":0.020},{"p":"Tra","yr":1979,"t":0.028,"o":0.018},{"p":"Tra","yr":1980,"t":0.024,"o":0.015},{"p":"Tra","yr":1981,"t":0.020,"o":0.012},{"p":"Tra","yr":1982,"t":0.020,"o":0.009},{"p":"Tra","yr":1983,"t":0.022,"o":0.010},{"p":"Tra","yr":1984,"t":0.025,"o":0.012},{"p":"Tra","yr":1985,"t":0.019,"o":0.010},{"p":"Tra","yr":1986,"t":0.019,"o":0.009},{"p":"Tra","yr":1987,"t":0.019,"o":0.009},{"p":"Tra","yr":1988,"t":0.019,"o":0.008},{"p":"Tra","yr":1989,"t":0.016,"o":0.006},{"p":"Tra","yr":1990,"t":0.013,"o":0.004},{"p":"Tra","yr":1991,"t":0.013,"o":0.004},{"p":"Tra","yr":1992,"t":0.015,"o":0.005},{"p":"Tra","yr":1993,"t":0.016,"o":0.007},{"p":"Tra","yr":1994,"t":0.022,"o":0.009},{"p":"Tra","yr":1995,"t":0.019,"o":0.010},{"p":"Tra","yr":1996,"t":0.020,"o":0.010},{"p":"Tra","yr":1997,"t":0.022,"o":0.011},{"p":"Tra","yr":1998,"t":0.023,"o":0.013},{"p":"Tra","yr":1999,"t":0.023,"o":0.014},{"p":"Tra","yr":2000,"t":0.020,"o":0.015},{"p":"Tra","yr":2001,"t":0.018,"o":0.010},{"p":"Tra","yr":2002,"t":0.020,"o":0.010},{"p":"Tra","yr":2003,"t":0.024,"o":0.012},{"p":"Tra","yr":2004,"t":0.031,"o":0.015},{"p":"Tra","yr":2005,"t":0.041,"o":0.017},{"p":"Tra","yr":2006,"t":0.040,"o":0.018},{"p":"Tra","yr":2007,"t":0.035,"o":0.017},{"p":"Tra","yr":2008,"t":0.023,"o":0.011},{"p":"Tra","yr":2009,"t":0.027,"o":0.010},{"p":"Tra","yr":2010,"t":0.032,"o":0.013},{"p":"Tra","yr":2011,"t":0.030,"o":0.015},{"p":"Tra","yr":2012,"t":0.037,"o":0.018},{"p":"Tra","yr":2013,"t":0.036,"o":0.020},
{"p":"Uti","yr":1936,"t":0.080,"o":0.084},{"p":"Uti","yr":1937,"t":0.076,"o":0.082},{"p":"Uti","yr":1938,"t":0.049,"o":0.066},{"p":"Uti","yr":1939,"t":0.090,"o":0.086},{"p":"Uti","yr":1940,"t":0.096,"o":0.106},{"p":"Uti","yr":1941,"t":0.134,"o":0.130},{"p":"Uti","yr":1942,"t":0.216,"o":0.156},{"p":"Uti","yr":1943,"t":0.232,"o":0.166},{"p":"Uti","yr":1944,"t":0.198,"o":0.158},{"p":"Uti","yr":1945,"t":0.142,"o":0.128},{"p":"Uti","yr":1946,"t":0.100,"o":0.112},{"p":"Uti","yr":1947,"t":0.116,"o":0.094},{"p":"Uti","yr":1948,"t":0.130,"o":0.088},{"p":"Uti","yr":1949,"t":0.110,"o":0.080},{"p":"Uti","yr":1950,"t":0.156,"o":0.092},{"p":"Uti","yr":1951,"t":0.150,"o":0.090},{"p":"Uti","yr":1952,"t":0.150,"o":0.082},{"p":"Uti","yr":1953,"t":0.147,"o":0.072},{"p":"Uti","yr":1954,"t":0.124,"o":0.062},{"p":"Uti","yr":1955,"t":0.142,"o":0.064},{"p":"Uti","yr":1956,"t":0.135,"o":0.060},{"p":"Uti","yr":1957,"t":0.122,"o":0.053},{"p":"Uti","yr":1958,"t":0.123,"o":0.047},{"p":"Uti","yr":1959,"t":0.127,"o":0.043},{"p":"Uti","yr":1960,"t":0.121,"o":0.035},{"p":"Uti","yr":1961,"t":0.130,"o":0.045},{"p":"Uti","yr":1962,"t":0.131,"o":0.045},{"p":"Uti","yr":1963,"t":0.137,"o":0.046},{"p":"Uti","yr":1964,"t":0.142,"o":0.047},{"p":"Uti","yr":1965,"t":0.141,"o":0.051},{"p":"Uti","yr":1966,"t":0.140,"o":0.047},{"p":"Uti","yr":1967,"t":0.120,"o":0.037},{"p":"Uti","yr":1968,"t":0.102,"o":0.034},{"p":"Uti","yr":1969,"t":0.086,"o":0.027},{"p":"Uti","yr":1970,"t":0.066,"o":0.021},{"p":"Uti","yr":1971,"t":0.060,"o":0.027},{"p":"Uti","yr":1972,"t":0.055,"o":0.031},{"p":"Uti","yr":1973,"t":0.051,"o":0.029},{"p":"Uti","yr":1974,"t":0.043,"o":0.026},{"p":"Uti","yr":1975,"t":0.047,"o":0.025},{"p":"Uti","yr":1976,"t":0.057,"o":0.031},{"p":"Uti","yr":1977,"t":0.062,"o":0.034},{"p":"Uti","yr":1978,"t":0.060,"o":0.031},{"p":"Uti","yr":1979,"t":0.045,"o":0.025},{"p":"Uti","yr":1980,"t":0.042,"o":0.017},{"p":"Uti","yr":1981,"t":0.037,"o":0.009},{"p":"Uti","yr":1982,"t":0.034,"o":-0.001},{"p":"Uti","yr":1983,"t":0.034,"o":0.001},{"p":"Uti","yr":1984,"t":0.045,"o":0.006},{"p":"Uti","yr":1985,"t":0.039,"o":-0.001},{"p":"Uti","yr":1986,"t":0.037,"o":-0.007},{"p":"Uti","yr":1987,"t":0.054,"o":0.003},{"p":"Uti","yr":1988,"t":0.066,"o":0.007},{"p":"Uti","yr":1989,"t":0.051,"o":0.006},{"p":"Uti","yr":1990,"t":0.045,"o":0.001},{"p":"Uti","yr":1991,"t":0.047,"o":0.002},{"p":"Uti","yr":1992,"t":0.049,"o":0.005},{"p":"Uti","yr":1993,"t":0.060,"o":0.011},{"p":"Uti","yr":1994,"t":0.070,"o":0.013},{"p":"Uti","yr":1995,"t":0.076,"o":0.017},{"p":"Uti","yr":1996,"t":0.073,"o":0.011},{"p":"Uti","yr":1997,"t":0.066,"o":0.009},{"p":"Uti","yr":1998,"t":0.058,"o":0.013},{"p":"Uti","yr":1999,"t":0.053,"o":0.009},{"p":"Uti","yr":2000,"t":0.033,"o":-0.023},{"p":"Uti","yr":2001,"t":0.031,"o":-0.003},{"p":"Uti","yr":2002,"t":0.035,"o":0.005},{"p":"Uti","yr":2003,"t":0.017,"o":0.001},{"p":"Uti","yr":2004,"t":0.001,"o":-0.003},{"p":"Uti","yr":2005,"t":0.037,"o":0.017},{"p":"Uti","yr":2006,"t":0.064,"o":0.021},{"p":"Uti","yr":2007,"t":0.055,"o":0.015},{"p":"Uti","yr":2008,"t":0.025,"o":0.011},{"p":"Uti","yr":2009,"t":0.011,"o":0.013},{"p":"Uti","yr":2010,"t":0.027,"o":0.019},{"p":"Uti","yr":2011,"t":-0.008,"o":0.027},{"p":"Uti","yr":2012,"t":0.015,"o":0.029},{"p":"Uti","yr":2013,"t":0.039,"o":0.013}
]
},
"concat": [
{"width": 14, "height": 70, "data": {"values": [{"t": "Figure 2: Profitability of the top 1 percent of corporations by assets⁵"}]}, "mark": {"type": "text", "align": "left", "baseline": "alphabetic", "fontSize": 36, "fontWeight": "bold", "font": "Liberation Sans", "color": "#000000"}, "encoding": {"text": {"field": "t"}}},
{"width": 1, "height": 166, "data": {"values": []}, "mark": "point"},
{"width": 1, "height": 1, "data": {"values": []}, "mark": "point"},
{"width": 1, "height": 1, "data": {"values": []}, "mark": "point"},
{"width": 1, "height": 1, "data": {"values": []}, "mark": "point"},
{"width": 1, "height": 1, "data": {"values": []}, "mark": "point"},

{"width": 139, "height": 498, "data": {"values": []}, "mark": "point"},
{"width": 475, "height": 310, "data": {"name": "d"}, "transform": [{"filter": "datum.p == 'All'"}, {"fold": ["t", "o"], "as": ["s", "v"]}], "title": {"text": "All"},
 "mark": {"type": "line", "strokeWidth": 4.5, "invalid": "break-paths-show-domains"},
 "encoding": {
  "x": {"field": "yr", "type": "quantitative", "scale": {"domain": [1927.7, 2015.05], "nice": false, "zero": false}, "axis": {"values": [1930, 1950, 1970, 1990, 2010], "format": "d", "title": null}},
  "y": {"field": "v", "type": "quantitative", "scale": {"domain": [-0.122, 0.221], "nice": false, "zero": false}, "axis": {"values": [-0.1, 0, 0.1, 0.2], "title": "Ratio", "labelExpr": "replace(replace(format(datum.value, '.2~f'), '0.', '.'), '−', '-')"}},
  "color": {"field": "s", "type": "nominal", "scale": {"domain": ["t", "o"], "range": ["#1b3f8b", "#76b7e0"]}, "legend": {"title": null, "labelExpr": "datum.value == 't' ? 'Net Income/Receipts (Top 1%)' : 'Net Income/Receipts (Other)'"}},
  "strokeDash": {"field": "s", "type": "nominal", "scale": {"domain": ["t", "o"], "range": [[1, 0], [24, 14]]}, "legend": {"title": null, "labelExpr": "datum.value == 't' ? 'Net Income/Receipts (Top 1%)' : 'Net Income/Receipts (Other)'"}}
 }},
{"width": 149, "height": 1, "data": {"values": []}, "mark": "point"},
{"width": 513, "height": 310, "data": {"name": "d"}, "transform": [{"filter": "datum.p == 'Agr'"}, {"fold": ["t", "o"], "as": ["s", "v"]}], "title": {"text": "Agriculture"},
 "mark": {"type": "line", "strokeWidth": 4.5, "invalid": "break-paths-show-domains"},
 "encoding": {
  "x": {"field": "yr", "type": "quantitative", "scale": {"domain": [1928.1, 2014.8], "nice": false, "zero": false}, "axis": {"values": [1930, 1950, 1970, 1990, 2010], "format": "d", "title": null}},
  "y": {"field": "v", "type": "quantitative", "scale": {"domain": [-0.449, 0.274], "nice": false, "zero": false}, "axis": {"values": [-0.4, -0.2, 0, 0.2], "title": null, "labelExpr": "replace(replace(format(datum.value, '.2~f'), '0.', '.'), '−', '-')"}},
  "color": {"field": "s", "type": "nominal", "scale": {"domain": ["t", "o"], "range": ["#1b3f8b", "#76b7e0"]}, "legend": {"title": null, "labelExpr": "datum.value == 't' ? 'Net Income/Receipts (Top 1%)' : 'Net Income/Receipts (Other)'"}},
  "strokeDash": {"field": "s", "type": "nominal", "scale": {"domain": ["t", "o"], "range": [[1, 0], [24, 14]]}, "legend": {"title": null, "labelExpr": "datum.value == 't' ? 'Net Income/Receipts (Top 1%)' : 'Net Income/Receipts (Other)'"}}
 }},
{"width": 137, "height": 1, "data": {"values": []}, "mark": "point"},
{"width": 526, "height": 310, "data": {"name": "d"}, "transform": [{"filter": "datum.p == 'Con'"}, {"fold": ["t", "o"], "as": ["s", "v"]}], "title": {"text": "Construction", "dx": 18},
 "mark": {"type": "line", "strokeWidth": 4.5, "invalid": "break-paths-show-domains"},
 "encoding": {
  "x": {"field": "yr", "type": "quantitative", "scale": {"domain": [1928.0, 2015.1], "nice": false, "zero": false, "range": [36, 526]}, "axis": {"values": [1930, 1950, 1970, 1990, 2010], "format": "d", "title": null}},
  "y": {"field": "v", "type": "quantitative", "scale": {"domain": [-0.1155, 0.114], "nice": false, "zero": false}, "axis": {"values": [-0.1, -0.05, 0, 0.05, 0.1], "title": null, "offset": -36, "labelExpr": "replace(replace(format(datum.value, '.2~f'), '0.', '.'), '−', '-')"}},
  "color": {"field": "s", "type": "nominal", "scale": {"domain": ["t", "o"], "range": ["#1b3f8b", "#76b7e0"]}, "legend": {"title": null, "labelExpr": "datum.value == 't' ? 'Net Income/Receipts (Top 1%)' : 'Net Income/Receipts (Other)'"}},
  "strokeDash": {"field": "s", "type": "nominal", "scale": {"domain": ["t", "o"], "range": [[1, 0], [24, 14]]}, "legend": {"title": null, "labelExpr": "datum.value == 't' ? 'Net Income/Receipts (Top 1%)' : 'Net Income/Receipts (Other)'"}}
 }},

{"width": 139, "height": 499, "data": {"values": []}, "mark": "point"},
{"width": 475, "height": 310, "data": {"name": "d"}, "transform": [{"filter": "datum.p == 'Fin'"}, {"fold": ["t", "o"], "as": ["s", "v"]}], "title": {"text": "Finance"},
 "mark": {"type": "line", "strokeWidth": 4.5, "invalid": "break-paths-show-domains"},
 "encoding": {
  "x": {"field": "yr", "type": "quantitative", "scale": {"domain": [1927.9, 2015.0], "nice": false, "zero": false}, "axis": {"values": [1930, 1950, 1970, 1990, 2010], "format": "d", "title": null}},
  "y": {"field": "v", "type": "quantitative", "scale": {"domain": [-0.463, 0.515], "nice": false, "zero": false}, "axis": {"values": [-0.4, -0.2, 0, 0.2, 0.4], "title": "Ratio", "labelExpr": "replace(replace(format(datum.value, '.2~f'), '0.', '.'), '−', '-')"}},
  "color": {"field": "s", "type": "nominal", "scale": {"domain": ["t", "o"], "range": ["#1b3f8b", "#76b7e0"]}, "legend": {"title": null, "labelExpr": "datum.value == 't' ? 'Net Income/Receipts (Top 1%)' : 'Net Income/Receipts (Other)'"}},
  "strokeDash": {"field": "s", "type": "nominal", "scale": {"domain": ["t", "o"], "range": [[1, 0], [24, 14]]}, "legend": {"title": null, "labelExpr": "datum.value == 't' ? 'Net Income/Receipts (Top 1%)' : 'Net Income/Receipts (Other)'"}}
 }},
{"width": 149, "height": 1, "data": {"values": []}, "mark": "point"},
{"width": 513, "height": 310, "data": {"name": "d"}, "transform": [{"filter": "datum.p == 'Man'"}, {"fold": ["t", "o"], "as": ["s", "v"]}], "title": {"text": "Manufacturing"},
 "mark": {"type": "line", "strokeWidth": 4.5, "invalid": "break-paths-show-domains"},
 "encoding": {
  "x": {"field": "yr", "type": "quantitative", "scale": {"domain": [1928.1, 2014.8], "nice": false, "zero": false}, "axis": {"values": [1930, 1950, 1970, 1990, 2010], "format": "d", "title": null}},
  "y": {"field": "v", "type": "quantitative", "scale": {"domain": [-0.122, 0.222], "nice": false, "zero": false}, "axis": {"values": [-0.1, 0, 0.1, 0.2], "title": null, "labelExpr": "replace(replace(format(datum.value, '.2~f'), '0.', '.'), '−', '-')"}},
  "color": {"field": "s", "type": "nominal", "scale": {"domain": ["t", "o"], "range": ["#1b3f8b", "#76b7e0"]}, "legend": {"title": null, "labelExpr": "datum.value == 't' ? 'Net Income/Receipts (Top 1%)' : 'Net Income/Receipts (Other)'"}},
  "strokeDash": {"field": "s", "type": "nominal", "scale": {"domain": ["t", "o"], "range": [[1, 0], [24, 14]]}, "legend": {"title": null, "labelExpr": "datum.value == 't' ? 'Net Income/Receipts (Top 1%)' : 'Net Income/Receipts (Other)'"}}
 }},
{"width": 137, "height": 1, "data": {"values": []}, "mark": "point"},
{"width": 526, "height": 310, "data": {"name": "d"}, "transform": [{"filter": "datum.p == 'Min'"}, {"fold": ["t", "o"], "as": ["s", "v"]}], "title": {"text": "Mining", "dx": 7},
 "mark": {"type": "line", "strokeWidth": 4.5, "invalid": "break-paths-show-domains"},
 "encoding": {
  "x": {"field": "yr", "type": "quantitative", "scale": {"domain": [1928.3, 2014.9], "nice": false, "zero": false, "range": [14, 526]}, "axis": {"values": [1930, 1950, 1970, 1990, 2010], "format": "d", "title": null}},
  "y": {"field": "v", "type": "quantitative", "scale": {"domain": [-0.249, 0.516], "nice": false, "zero": false}, "axis": {"values": [-0.2, 0, 0.2, 0.4], "title": null, "offset": -14, "labelExpr": "replace(replace(format(datum.value, '.2~f'), '0.', '.'), '−', '-')"}},
  "color": {"field": "s", "type": "nominal", "scale": {"domain": ["t", "o"], "range": ["#1b3f8b", "#76b7e0"]}, "legend": {"title": null, "labelExpr": "datum.value == 't' ? 'Net Income/Receipts (Top 1%)' : 'Net Income/Receipts (Other)'"}},
  "strokeDash": {"field": "s", "type": "nominal", "scale": {"domain": ["t", "o"], "range": [[1, 0], [24, 14]]}, "legend": {"title": null, "labelExpr": "datum.value == 't' ? 'Net Income/Receipts (Top 1%)' : 'Net Income/Receipts (Other)'"}}
 }},

{"width": 139, "height": 572.7, "data": {"values": []}, "mark": "point"},
{"width": 475, "height": 310, "data": {"name": "d"}, "transform": [{"filter": "datum.p == 'Ser'"}, {"fold": ["t", "o"], "as": ["s", "v"]}], "title": {"text": "Services"},
 "mark": {"type": "line", "strokeWidth": 4.5, "invalid": "break-paths-show-domains"},
 "encoding": {
  "x": {"field": "yr", "type": "quantitative", "scale": {"domain": [1927.7, 2014.9], "nice": false, "zero": false}, "axis": {"values": [1930, 1950, 1970, 1990, 2010], "format": "d", "title": null}},
  "y": {"field": "v", "type": "quantitative", "scale": {"domain": [-0.2305, 0.228], "nice": false, "zero": false}, "axis": {"values": [-0.2, -0.1, 0, 0.1, 0.2], "title": "Ratio", "labelExpr": "replace(replace(format(datum.value, '.2~f'), '0.', '.'), '−', '-')"}},
  "color": {"field": "s", "type": "nominal", "scale": {"domain": ["t", "o"], "range": ["#1b3f8b", "#76b7e0"]}, "legend": {"title": null, "labelExpr": "datum.value == 't' ? 'Net Income/Receipts (Top 1%)' : 'Net Income/Receipts (Other)'"}},
  "strokeDash": {"field": "s", "type": "nominal", "scale": {"domain": ["t", "o"], "range": [[1, 0], [24, 14]]}, "legend": {"title": null, "labelExpr": "datum.value == 't' ? 'Net Income/Receipts (Top 1%)' : 'Net Income/Receipts (Other)'"}}
 }},
{"width": 149, "height": 1, "data": {"values": []}, "mark": "point"},
{"width": 513, "height": 310, "data": {"name": "d"}, "transform": [{"filter": "datum.p == 'Tra'"}, {"fold": ["t", "o"], "as": ["s", "v"]}], "title": {"text": "Trade", "dx": 11.5},
 "mark": {"type": "line", "strokeWidth": 4.5, "invalid": "break-paths-show-domains"},
 "encoding": {
  "x": {"field": "yr", "type": "quantitative", "scale": {"domain": [1927.9, 2014.9], "nice": false, "zero": false, "range": [23, 513]}, "axis": {"values": [1930, 1950, 1970, 1990, 2010], "format": "d", "title": null}},
  "y": {"field": "v", "type": "quantitative", "scale": {"domain": [-0.061, 0.1105], "nice": false, "zero": false}, "axis": {"values": [-0.05, 0, 0.05, 0.1], "title": null, "offset": -23, "labelExpr": "replace(replace(format(datum.value, '.2~f'), '0.', '.'), '−', '-')"}},
  "color": {"field": "s", "type": "nominal", "scale": {"domain": ["t", "o"], "range": ["#1b3f8b", "#76b7e0"]}, "legend": {"title": null, "labelExpr": "datum.value == 't' ? 'Net Income/Receipts (Top 1%)' : 'Net Income/Receipts (Other)'"}},
  "strokeDash": {"field": "s", "type": "nominal", "scale": {"domain": ["t", "o"], "range": [[1, 0], [24, 14]]}, "legend": {"title": null, "labelExpr": "datum.value == 't' ? 'Net Income/Receipts (Top 1%)' : 'Net Income/Receipts (Other)'"}}
 }},
{"width": 137, "height": 1, "data": {"values": []}, "mark": "point"},
{"width": 526, "height": 310, "data": {"name": "d"}, "transform": [{"filter": "datum.p == 'Uti'"}, {"fold": ["t", "o"], "as": ["s", "v"]}], "title": {"text": "Utilities"},
 "mark": {"type": "line", "strokeWidth": 4.5, "invalid": "break-paths-show-domains"},
 "encoding": {
  "x": {"field": "yr", "type": "quantitative", "scale": {"domain": [1928.0, 2014.8], "nice": false, "zero": false}, "axis": {"values": [1930, 1950, 1970, 1990, 2010], "format": "d", "title": null}},
  "y": {"field": "v", "type": "quantitative", "scale": {"domain": [-0.0507, 0.323], "nice": false, "zero": false}, "axis": {"values": [0, 0.1, 0.2, 0.3], "title": null, "labelExpr": "replace(replace(format(datum.value, '.2~f'), '0.', '.'), '−', '-')"}},
  "color": {"field": "s", "type": "nominal", "scale": {"domain": ["t", "o"], "range": ["#1b3f8b", "#76b7e0"]}, "legend": {"title": null, "labelExpr": "datum.value == 't' ? 'Net Income/Receipts (Top 1%)' : 'Net Income/Receipts (Other)'"}},
  "strokeDash": {"field": "s", "type": "nominal", "scale": {"domain": ["t", "o"], "range": [[1, 0], [24, 14]]}, "legend": {"title": null, "labelExpr": "datum.value == 't' ? 'Net Income/Receipts (Top 1%)' : 'Net Income/Receipts (Other)'"}}
 }},

{"width": 14, "height": {"step": 58.6}, "data": {"values": [
  {"ln": 1, "t": "As such, rather than focusing principally on the purported downsides of firm size, policymakers"},
  {"ln": 2, "t": "should not discount the benefits to the economy from firms that can gain efficiencies from the"},
  {"ln": 3, "t": "scale. This means policymakers need to reject neo-Brandeisian ideology and instead empirically"},
  {"ln": 4, "t": "examine the impact of rising concentration in each industry. Moreover, they need to revise the"},
  {"ln": 5, "t": "2023 Merger Guidelines to encourage more mergers, especially those that result in minimal"},
  {"ln": 6, "t": "increases in concentration but generate significant productivity gains. This would ensure that"},
  {"ln": 7, "t": "larger, highly productive firms can continue to operate in the market, benefiting consumers,"},
  {"ln": 8, "t": "workers, and the economy alike."}]},
 "mark": {"type": "text", "align": "left", "baseline": "middle", "fontSize": 45.5, "font": "Liberation Sans", "color": "#231f20"},
 "encoding": {"y": {"field": "ln", "type": "ordinal", "axis": null}, "text": {"field": "t"}}},
{"width": 1, "height": 501, "data": {"values": []}, "mark": "point"},
{"width": 1, "height": 1, "data": {"values": []}, "mark": "point"},
{"width": 1, "height": 1, "data": {"values": []}, "mark": "point"},
{"width": 1, "height": 1, "data": {"values": []}, "mark": "point"},
{"width": 1, "height": 1, "data": {"values": []}, "mark": "point"},

{"width": 14, "height": {"step": 58.6}, "data": {"values": [
  {"ln": 1, "t": "This report 1) rebuts the neo-Brandeisian claims that concentration invariably negatively affects"},
  {"ln": 2, "t": "productivity and wages, 2) shows that concentration and productivity can have a positive"},
  {"ln": 3, "t": "relationship, and 3) shows that concentration and wages can have a positive relationship."},
  {"ln": 4, "t": "Policymakers should:"}]},
 "mark": {"type": "text", "align": "left", "baseline": "middle", "fontSize": 45.5, "font": "Liberation Sans", "color": "#231f20"},
 "encoding": {"y": {"field": "ln", "type": "ordinal", "axis": null}, "text": {"field": "t"}}},
{"width": 1, "height": 269, "data": {"values": []}, "mark": "point"},
{"width": 1, "height": 1, "data": {"values": []}, "mark": "point"},
{"width": 1, "height": 1, "data": {"values": []}, "mark": "point"},
{"width": 1, "height": 1, "data": {"values": []}, "mark": "point"},
{"width": 1, "height": 1, "data": {"values": []}, "mark": "point"},

{"width": 14, "height": {"step": 58.6}, "data": {"values": [
  {"ln": 1, "t": "Modify the merger guidelines so that mergers are not presumed illegal based on market"},
  {"ln": 2, "t": "shares."}]},
 "encoding": {"y": {"field": "ln", "type": "ordinal", "axis": null}},
 "layer": [
  {"mark": {"type": "text", "align": "left", "baseline": "middle", "fontSize": 45.5, "font": "Liberation Sans", "color": "#231f20", "dx": 149}, "encoding": {"text": {"field": "t"}}},
  {"transform": [{"filter": "datum.ln == 1"}], "mark": {"type": "point", "shape": "square", "filled": true, "size": 120, "color": "#2b64a8", "opacity": 1}, "encoding": {"xOffset": {"value": 87}}}
 ]},
{"width": 1, "height": 274.3, "data": {"values": []}, "mark": "point"},
{"width": 1, "height": 1, "data": {"values": []}, "mark": "point"},
{"width": 1, "height": 1, "data": {"values": []}, "mark": "point"},
{"width": 1, "height": 1, "data": {"values": []}, "mark": "point"},
{"width": 1, "height": 1, "data": {"values": []}, "mark": "point"},

{"width": 14, "height": 100, "data": {"values": [
  {"s": 0, "t": "INFORMATION TECHNOLOGY & INNOVATION FOUNDATION\u00a0\u00a0\u00a0|\u00a0\u00a0\u00a0MAY 2024"},
  {"s": 1, "t": "PAGE 4"}]},
 "encoding": {
  "x": {"field": "s", "type": "quantitative", "scale": {"domain": [0, 1], "nice": false, "zero": false, "range": [0, 1962]}, "axis": {"orient": "top", "domain": true, "domainColor": "#2d6ca5", "domainWidth": 4, "ticks": false, "labels": false, "grid": false, "title": null}},
  "text": {"field": "t"}},
 "layer": [
  {"transform": [{"filter": "datum.s == 0"}], "mark": {"type": "text", "align": "left", "baseline": "middle", "fontSize": 35.5, "font": "Liberation Sans", "color": "#2163a6", "dx": 6}},
  {"transform": [{"filter": "datum.s == 1"}], "mark": {"type": "text", "align": "right", "baseline": "middle", "fontSize": 35.5, "font": "Liberation Sans", "color": "#2163a6", "dx": -7}}
 ]},
{"width": 1, "height": 1, "data": {"values": []}, "mark": "point"},
{"width": 1, "height": 1, "data": {"values": []}, "mark": "point"},
{"width": 1, "height": 1, "data": {"values": []}, "mark": "point"},
{"width": 1, "height": 1, "data": {"values": []}, "mark": "point"},
{"width": 1, "height": 1, "data": {"values": []}, "mark": "point"}
],
"config": {
 "view": {"stroke": null},
 "font": "Liberation Sans",
 "title": {"font": "Liberation Sans", "fontSize": 44, "fontWeight": "normal", "color": "#000000", "anchor": "middle", "offset": 13, "baseline": "alphabetic", "frame": "group"},
 "axis": {"labelFont": "Liberation Sans", "labelFontSize": 37, "labelColor": "#000000", "domainColor": "#3c3c3c", "domainWidth": 2.5, "tickColor": "#3c3c3c", "tickWidth": 2, "tickSize": 13, "labelPadding": 8, "gridColor": "#ebebeb", "gridWidth": 2, "titleFont": "Liberation Sans", "titleFontSize": 38, "titleFontWeight": "normal", "titleColor": "#000000", "labelOverlap": false, "labelBound": false},
 "axisX": {"labelFlush": false, "tickSize": 12},
 "axisY": {"labelAngle": 0, "titlePadding": 22},
 "legend": {"orient": "none", "legendX": 137, "legendY": 1600, "direction": "horizontal", "symbolType": "stroke", "symbolSize": 4761, "symbolStrokeWidth": 6, "labelFont": "Liberation Sans", "labelFontSize": 51, "labelColor": "#000000", "labelLimit": 2000, "labelOffset": 34, "columnPadding": 91, "padding": 0}
}
}
